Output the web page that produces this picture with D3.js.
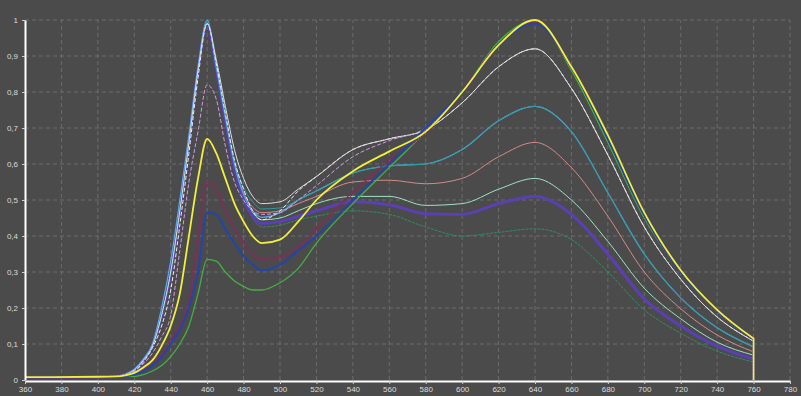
<!DOCTYPE html>
<html>
<head>
<meta charset="utf-8">
<script src="https://cdn.jsdelivr.net/npm/d3@7"></script>
<style>
  html, body { margin: 0; padding: 0; background: #4b4b4b; }
  svg { display: block; }
  .tick text { fill: #dcdcdc; font-family: "Liberation Sans", Arial, sans-serif; font-size: 8px; }
</style>
</head>
<body>
<script>
// wavelengths (nm)
var wavelengths = [360, 400, 410, 415, 420, 425, 430, 435, 440, 445, 450, 455, 460, 465, 470, 475, 480, 485, 490, 500, 510, 520, 540, 560, 580, 600, 620, 640, 660, 680, 700, 720, 740, 760];

// relative intensity, one array per measurement
var lightBlue = [0.008, 0.009, 0.011, 0.016, 0.030, 0.058, 0.100, 0.200, 0.330, 0.500, 0.680, 0.870, 1.000, 0.870, 0.730, 0.600, 0.515, 0.470, 0.452, 0.465, 0.500, 0.525, 0.575, 0.595, 0.600, 0.640, 0.720, 0.760, 0.690, 0.520, 0.350, 0.228, 0.145, 0.092];
var whiteDash = [0.008, 0.009, 0.010, 0.014, 0.025, 0.050, 0.090, 0.150, 0.250, 0.430, 0.630, 0.840, 0.990, 0.880, 0.740, 0.610, 0.530, 0.470, 0.445, 0.470, 0.525, 0.565, 0.640, 0.670, 0.695, 0.770, 0.870, 0.920, 0.810, 0.625, 0.425, 0.280, 0.175, 0.108];
var teal      = [0.008, 0.009, 0.010, 0.015, 0.028, 0.055, 0.095, 0.180, 0.300, 0.470, 0.660, 0.860, 0.995, 0.880, 0.740, 0.610, 0.535, 0.495, 0.475, 0.478, 0.500, 0.525, 0.575, 0.595, 0.600, 0.640, 0.720, 0.760, 0.690, 0.520, 0.350, 0.228, 0.145, 0.092];
var white     = [0.008, 0.009, 0.010, 0.015, 0.028, 0.055, 0.095, 0.180, 0.300, 0.470, 0.660, 0.860, 0.990, 0.890, 0.760, 0.640, 0.560, 0.510, 0.490, 0.495, 0.530, 0.565, 0.640, 0.670, 0.695, 0.770, 0.870, 0.920, 0.810, 0.625, 0.425, 0.280, 0.175, 0.108];
var salmon    = [0.008, 0.009, 0.010, 0.015, 0.028, 0.055, 0.095, 0.180, 0.300, 0.470, 0.660, 0.860, 0.990, 0.875, 0.730, 0.600, 0.520, 0.480, 0.465, 0.470, 0.490, 0.510, 0.550, 0.555, 0.545, 0.560, 0.620, 0.660, 0.590, 0.455, 0.300, 0.198, 0.125, 0.078];
var mint      = [0.008, 0.009, 0.010, 0.015, 0.028, 0.055, 0.095, 0.180, 0.300, 0.470, 0.660, 0.860, 0.990, 0.870, 0.725, 0.595, 0.510, 0.465, 0.445, 0.450, 0.470, 0.490, 0.510, 0.510, 0.485, 0.490, 0.530, 0.560, 0.500, 0.385, 0.255, 0.170, 0.105, 0.069];
var purple    = [0.008, 0.009, 0.010, 0.015, 0.028, 0.055, 0.095, 0.180, 0.300, 0.470, 0.660, 0.860, 0.990, 0.865, 0.720, 0.590, 0.505, 0.455, 0.435, 0.440, 0.455, 0.470, 0.495, 0.487, 0.462, 0.460, 0.490, 0.510, 0.460, 0.350, 0.225, 0.150, 0.094, 0.058];
var darkGreen = [0.008, 0.009, 0.010, 0.015, 0.028, 0.055, 0.095, 0.180, 0.300, 0.470, 0.660, 0.860, 0.990, 0.860, 0.715, 0.585, 0.500, 0.450, 0.425, 0.430, 0.445, 0.455, 0.470, 0.460, 0.425, 0.400, 0.410, 0.420, 0.390, 0.300, 0.195, 0.130, 0.080, 0.050];
var lavender  = [0.008, 0.009, 0.010, 0.014, 0.025, 0.045, 0.075, 0.120, 0.180, 0.360, 0.550, 0.690, 0.820, 0.780, 0.650, 0.550, 0.500, 0.470, 0.460, 0.465, 0.500, 0.540, 0.620, 0.665, 0.700, 0.800, 0.930, 0.990, 0.870, 0.670, 0.455, 0.300, 0.190, 0.113];
var yellow    = [0.008, 0.009, 0.010, 0.013, 0.020, 0.035, 0.055, 0.095, 0.150, 0.240, 0.400, 0.560, 0.670, 0.630, 0.560, 0.490, 0.440, 0.400, 0.380, 0.390, 0.440, 0.500, 0.580, 0.635, 0.690, 0.800, 0.930, 1.000, 0.870, 0.680, 0.465, 0.305, 0.195, 0.115];
var maroon    = [0.008, 0.009, 0.010, 0.012, 0.018, 0.030, 0.045, 0.070, 0.110, 0.150, 0.220, 0.390, 0.550, 0.530, 0.470, 0.420, 0.380, 0.350, 0.335, 0.340, 0.370, 0.420, 0.520, 0.610, 0.690, 0.800, 0.930, 0.995, 0.870, 0.675, 0.460, 0.302, 0.193, 0.114];
var darkBlue  = [0.008, 0.009, 0.010, 0.012, 0.015, 0.025, 0.040, 0.065, 0.100, 0.140, 0.200, 0.300, 0.465, 0.460, 0.420, 0.380, 0.345, 0.320, 0.305, 0.320, 0.360, 0.400, 0.500, 0.600, 0.700, 0.800, 0.930, 0.990, 0.870, 0.670, 0.458, 0.300, 0.192, 0.113];
var green     = [0.008, 0.009, 0.010, 0.011, 0.010, 0.015, 0.025, 0.040, 0.065, 0.100, 0.150, 0.240, 0.335, 0.330, 0.300, 0.275, 0.260, 0.250, 0.250, 0.270, 0.310, 0.380, 0.490, 0.590, 0.690, 0.800, 0.940, 1.000, 0.860, 0.660, 0.450, 0.300, 0.190, 0.112];

var xTicks = d3.range(360, 781, 20);
var yTicks = d3.range(0, 1.01, 0.1);

// drawing order, last on top
var series = [
  {values: darkGreen, color: "#2f8f62", width: 1,   dash: "3,1"},
  {values: mint,      color: "#9ee2c4", width: 1,   dash: null},
  {values: salmon,    color: "#d48a8a", width: 1,   dash: null},
  {values: purple,    color: "#5a40b4", width: 3,   dash: null},
  {values: lightBlue, color: "#5aaaea", width: 1.2, dash: null},
  {values: teal,      color: "#2a9d9d", width: 1,   dash: null},
  {values: whiteDash, color: "#eeeef8", width: 1,   dash: "4,2"},
  {values: white,     color: "#dedede", width: 1,   dash: null},
  {values: lavender,  color: "#d49ce2", width: 1,   dash: "4,2"},
  {values: green,     color: "#44b044", width: 1.3, dash: null},
  {values: maroon,    color: "#7c3058", width: 3,   dash: "2,1"},
  {values: darkBlue,  color: "#2444a8", width: 2,   dash: null},
  {values: yellow,    color: "#f2f03c", width: 1.8, dash: null}
];

var W = 801, H = 396;

var svg = d3.select("body").append("svg")
    .attr("width", W)
    .attr("height", H);

svg.append("rect").attr("width", W).attr("height", H).attr("fill", "#4b4b4b");

var x = d3.scaleLinear().domain([360, 780]).range([25, 790]);
var y = d3.scaleLinear().domain([0, 1]).range([380, 20]);

// grid
svg.append("g").selectAll("line.v")
  .data(xTicks.slice(1))
  .enter().append("line")
    .attr("x1", function(d) { return x(d); })
    .attr("x2", function(d) { return x(d); })
    .attr("y1", y(0))
    .attr("y2", y(1))
    .attr("stroke", "#6c6c6c")
    .attr("stroke-dasharray", "4,3");

svg.append("g").selectAll("line.h")
  .data(yTicks.slice(1))
  .enter().append("line")
    .attr("x1", x(360))
    .attr("x2", x(780))
    .attr("y1", function(d) { return y(d); })
    .attr("y2", function(d) { return y(d); })
    .attr("stroke", "#6c6c6c")
    .attr("stroke-dasharray", "4,3");

// curves
var line = d3.line()
    .x(function(d) { return x(d[0]); })
    .y(function(d) { return y(d[1]); })
    .curve(d3.curveMonotoneX);

series.forEach(function(s) {
  var pts = wavelengths.map(function(w, i) { return [w, s.values[i]]; });
  svg.append("path")
      .attr("d", line(pts) + "L" + x(760) + "," + y(0))
      .attr("fill", "none")
      .attr("stroke", s.color)
      .attr("stroke-width", s.width)
      .attr("stroke-dasharray", s.dash)
      .attr("stroke-linejoin", "round");
});

// axes
var fmt = function(d) { return String(+d.toFixed(1)).replace(".", ","); };

var xAxis = svg.append("g")
    .attr("transform", "translate(0," + 381 + ")")
    .call(d3.axisBottom(x).tickValues(xTicks).tickSize(3).tickSizeOuter(0).tickPadding(2));

var yAxis = svg.append("g")
    .attr("transform", "translate(" + 25 + ",0)")
    .call(d3.axisLeft(y).tickValues(yTicks).tickFormat(fmt).tickSize(3).tickSizeOuter(0).tickPadding(4));

[xAxis, yAxis].forEach(function(a) {
  a.select(".domain").attr("stroke", "#ffffff").attr("stroke-width", 2);
  a.selectAll(".tick line").attr("stroke", "#cfcfcf");
});
</script>
</body>
</html>
